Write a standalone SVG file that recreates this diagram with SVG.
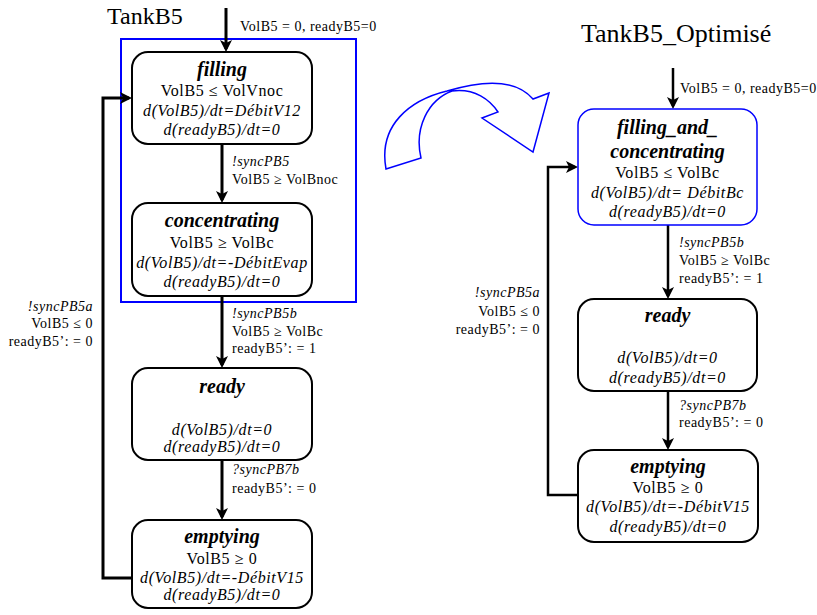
<svg xmlns="http://www.w3.org/2000/svg" width="817" height="615" viewBox="0 0 817 615">
<defs>
<marker id="ah" viewBox="-1 -7 14 14" markerWidth="14" markerHeight="14" markerUnits="userSpaceOnUse" refX="9" refY="0" orient="auto">
<path d="M0,-6 L12,0 L0,6 L3,0 Z" fill="#000"/>
</marker>
<style>
text{font-family:"Liberation Serif","Times New Roman",serif;fill:#000}
.title{font-size:24px}
.n{font-size:16px;text-anchor:middle;letter-spacing:0.6px}
.ni{font-size:16px;text-anchor:middle;font-style:italic;letter-spacing:0.6px}
.nb{font-size:20px;text-anchor:middle;font-style:italic;font-weight:bold}
.l{font-size:14px;letter-spacing:0.5px}
.li{font-size:14px;font-style:italic;letter-spacing:0.5px}
.r{text-anchor:end}
.node{fill:#fff;stroke:#000;stroke-width:2}
.bnode{fill:#fff;stroke:#0000ff;stroke-width:1.5}
.c{fill:none;stroke:#000;stroke-width:3;marker-end:url(#ah)}
.c2{fill:none;stroke:#000;stroke-width:2.5;marker-end:url(#ah)}
</style>
</defs>
<rect x="121" y="39" width="235" height="263" fill="none" stroke="#0000ff" stroke-width="2"/>
<text class="title" x="107" y="24">TankB5</text>
<text class="title" x="581" y="42" style="font-size:26px">TankB5_Optimisé</text>
<path d="M386,169 C378,125 410,100 447,91 C480,81 515,78 533,99 L549,93 L533,152 L482,118 L498,112 C490,100 475,88 452,91 C428,100 414,128 421,158 Z" fill="none" stroke="#0000ff" stroke-width="1.5"/>
<g id="connectors">
<path class="c" d="M226,8 V49"/>
<path class="c" d="M222,144 V200"/>
<path class="c" d="M222,296 V365"/>
<path class="c" d="M222,460 V517"/>
<path class="c" d="M133,578 H103 V98 H129"/>
<path class="c2" d="M673,68 V106"/>
<path class="c2" d="M668,225 V296"/>
<path class="c2" d="M668,391 V447"/>
<path class="c2" d="M578,495 H548 V167 H575"/>
<text class="l" x="240" y="31">VolB5 = 0, readyB5=0</text>
<text class="li" x="232" y="166">!syncPB5</text>
<text class="l" x="232" y="184">VolB5 ≥ VolBnoc</text>
<text class="li" x="232" y="318">!syncPB5b</text>
<text class="l" x="232" y="336">VolB5 ≥ VolBc</text>
<text class="l" x="232" y="353">readyB5’: = 1</text>
<text class="li r" x="93" y="311">!syncPB5a</text>
<text class="l r" x="93" y="328">VolB5 ≤ 0</text>
<text class="l r" x="93" y="346">readyB5’: = 0</text>
<text class="li" x="232" y="474">?syncPB7b</text>
<text class="l" x="232" y="493">readyB5’: = 0</text>
<text class="l" x="680" y="93">VolB5 = 0, readyB5=0</text>
<text class="li" x="679" y="247">!syncPB5b</text>
<text class="l" x="679" y="265">VolB5 ≥ VolBc</text>
<text class="l" x="679" y="283">readyB5’: = 1</text>
<text class="li r" x="540" y="297">!syncPB5a</text>
<text class="l r" x="540" y="316">VolB5 ≤ 0</text>
<text class="l r" x="540" y="334">readyB5’: = 0</text>
<text class="li" x="679" y="410">?syncPB7b</text>
<text class="l" x="679" y="427">readyB5’: = 0</text>
</g>
<g id="filling">
<rect class="node" x="132" y="52" width="180" height="92" rx="16"/>
<text class="nb" x="222" y="76">filling</text>
<text class="n" x="222" y="96">VolB5 ≤ VolVnoc</text>
<text class="ni" x="222" y="116">d(VolB5)/dt=DébitV12</text>
<text class="ni" x="222" y="135">d(readyB5)/dt=0</text>
</g>
<g id="concentrating">
<rect class="node" x="132" y="203" width="180" height="93" rx="16"/>
<text class="nb" x="222" y="227">concentrating</text>
<text class="n" x="222" y="248">VolB5 ≥ VolBc</text>
<text class="ni" x="222" y="268">d(VolB5)/dt=-DébitEvap</text>
<text class="ni" x="222" y="287">d(readyB5)/dt=0</text>
</g>
<g id="ready">
<rect class="node" x="132" y="368" width="180" height="92" rx="16"/>
<text class="nb" x="222" y="393">ready</text>
<text class="ni" x="222" y="435">d(VolB5)/dt=0</text>
<text class="ni" x="222" y="452">d(readyB5)/dt=0</text>
</g>
<g id="emptying">
<rect class="node" x="132" y="520" width="180" height="88" rx="16"/>
<text class="nb" x="222" y="543">emptying</text>
<text class="n" x="222" y="564">VolB5 ≥ 0</text>
<text class="ni" x="222" y="583">d(VolB5)/dt=-DébitV15</text>
<text class="ni" x="222" y="600">d(readyB5)/dt=0</text>
</g>
<g id="filling_and_concentrating">
<rect class="bnode" x="578" y="109" width="179" height="116" rx="16"/>
<text class="nb" x="667.5" y="134">filling_and_</text>
<text class="nb" x="667.5" y="158">concentrating</text>
<text class="n" x="667.5" y="178">VolB5 ≤ VolBc</text>
<text class="ni" x="667.5" y="198">d(VolB5)/dt= DébitBc</text>
<text class="ni" x="667.5" y="217">d(readyB5)/dt=0</text>
</g>
<g id="ready2">
<rect class="node" x="578" y="299" width="179" height="92" rx="16"/>
<text class="nb" x="667.5" y="322">ready</text>
<text class="ni" x="667.5" y="363">d(VolB5)/dt=0</text>
<text class="ni" x="667.5" y="383">d(readyB5)/dt=0</text>
</g>
<g id="emptying2">
<rect class="node" x="578" y="450" width="180" height="92" rx="16"/>
<text class="nb" x="668" y="473">emptying</text>
<text class="n" x="668" y="493">VolB5 ≥ 0</text>
<text class="ni" x="668" y="512">d(VolB5)/dt=-DébitV15</text>
<text class="ni" x="668" y="532">d(readyB5)/dt=0</text>
</g>
</svg>
